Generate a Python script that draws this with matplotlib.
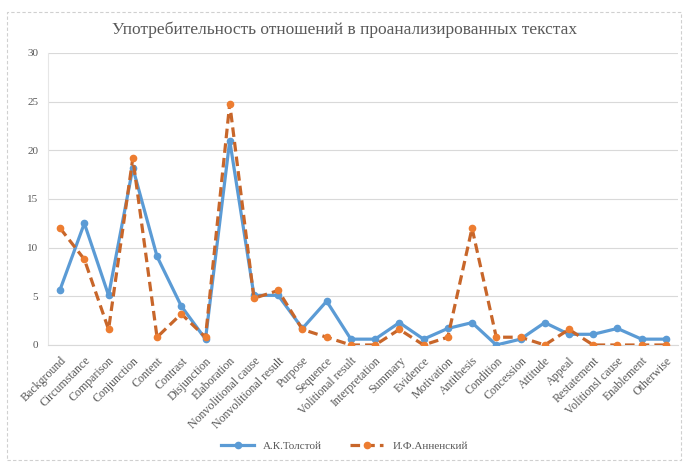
import matplotlib.pyplot as plt
from matplotlib.patches import Rectangle

# Relationen (Kategorien)
relations = ["Background", "Circumstance", "Comparison", "Conjunction", "Content",
             "Contrast", "Disjunction", "Elaboration", "Nonvolitional cause",
             "Nonvolitional result", "Purpose", "Sequence", "Volitional result",
             "Interpretation", "Summary", "Evidence", "Motivation", "Antithesis",
             "Condition", "Concession", "Attitude", "Appeal", "Restatement",
             "Volitionsl cause", "Enablement", "Otherwise"]

# Werte
tolstoy = [5.7, 12.5, 5.1, 18.2, 9.1, 4.0, 0.6, 21.0, 5.1, 5.1, 1.7, 4.5, 0.6,
           0.6, 2.3, 0.6, 1.7, 2.3, 0.0, 0.6, 2.3, 1.1, 1.1, 1.7, 0.6, 0.6]
annensky = [12.0, 8.8, 1.6, 19.2, 0.8, 3.2, 0.8, 24.8, 4.8, 5.6, 1.6, 0.8, 0.0,
            0.0, 1.6, 0.0, 0.8, 12.0, 0.8, 0.8, 0.0, 1.6, 0.0, 0.0, 0.0, 0.0]

yticks = [0, 5, 10, 15, 20, 25, 30]

plt.rcParams["font.family"] = ["Liberation Serif", "DejaVu Serif"]

fig = plt.figure(figsize=(6.89, 4.62), dpi=100)
# gestrichelter Rahmen um die ganze Grafik
fig.patches.append(Rectangle((7 / 689, 0.005), 674 / 689, 1 - 12 / 462 - 0.005,
                             transform=fig.transFigure, fill=False,
                             edgecolor="#d0d0d0", linestyle=(0, (3, 2)),
                             linewidth=0.8))

ax = fig.add_axes([48 / 689, 1 - 345 / 462, 630 / 689, 292 / 462])

x = range(len(relations))
ax.plot(x, tolstoy, color="#5b9bd5", linewidth=2.3, marker="o", markersize=4.5,
        label="А.К.Толстой", zorder=3)
ax.plot(x, annensky, color="#c8662a", linewidth=2.3, linestyle=(0, (3, 1.6)),
        marker="o", markersize=4.5, markerfacecolor="#ed7d31",
        markeredgecolor="#ed7d31", label="И.Ф.Анненский", zorder=4)

ax.set_xlim(-0.5, len(relations) - 0.5)
ax.set_ylim(0, 30)
ax.set_yticks(yticks)
ax.grid(axis="y", color="#d9d9d9", linewidth=0.8)
ax.set_axisbelow(True)
for s in ["top", "right"]:
    ax.spines[s].set_visible(False)
ax.spines["left"].set_color("#e6e6e6")
ax.spines["bottom"].set_color("#d9d9d9")

ax.set_xticks(list(x))
ax.set_xticklabels(relations, rotation=45, ha="right", rotation_mode="anchor",
                   fontsize=8.6, color="#595959")
ax.tick_params(axis="both", length=0, colors="#595959", labelsize=8)
ax.tick_params(axis="x", pad=7, labelsize=8.6)
ax.tick_params(axis="y", pad=7)

fig.text(0.5, 1 - 30 / 462, "Употребительность отношений в проанализированных текстах",
         ha="center", va="center", fontsize=12.5, color="#595959")

fig.legend(loc="center", bbox_to_anchor=(0.5, 1 - 446 / 462), ncol=2,
           frameon=False, fontsize=8, labelcolor="#595959",
           handlelength=3, columnspacing=2.5)

plt.savefig("out.png", dpi=100)
